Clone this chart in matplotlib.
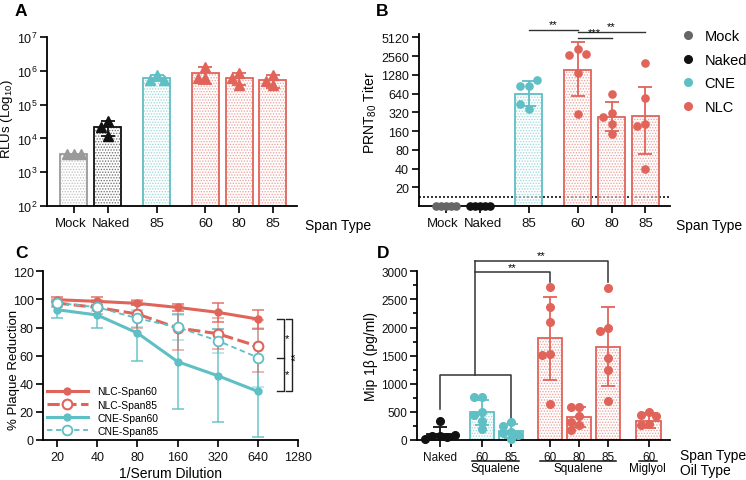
import numpy as np
import matplotlib
matplotlib.use('Agg')
import matplotlib.pyplot as plt
import matplotlib.transforms as mtransforms
from matplotlib.lines import Line2D
from matplotlib.ticker import FixedLocator, NullLocator, LogLocator, MultipleLocator

plt.rcParams['font.family'] = ['Liberation Sans', 'DejaVu Sans']
plt.rcParams['mathtext.default'] = 'regular'
plt.rcParams['hatch.linewidth'] = 0.7
plt.rcParams['axes.linewidth'] = 1.3

RED = '#E0645A'
TEAL = '#5EBFC4'
MOCK_A = '#9A9A9A'
MOCK_B = '#666666'
BLACK = '#111111'

# ---------------- panel A : luciferase RLUs
a_labels = ['Mock', 'Naked', '85', '60', '80', '85']
a_groups = ['Mock', 'Naked', 'CNE', 'NLC', 'NLC', 'NLC']
a_means = [3.5e3, 2.2e4, 6.1e5, 8.6e5, 6.1e5, 5.3e5]
a_sd = [0.0, 1.0e4, 1.2e5, 4.4e5, 2.3e5, 2.2e5]
a_points = [[3.5e3, 3.5e3, 3.5e3],
            [3.3e4, 2.2e4, 1.2e4],
            [7.5e5, 5.3e5, 5.3e5],
            [1.3e6, 6.1e5, 6.1e5],
            [8.6e5, 6.1e5, 3.8e5],
            [7.5e5, 5.0e5, 3.8e5]]

# ---------------- panel B : PRNT80 titers
b_labels = ['Mock', 'Naked', '85', '60', '80', '85']
b_groups = ['Mock', 'Naked', 'CNE', 'NLC', 'NLC', 'NLC']
b_means = [np.nan, np.nan, 640, 1530, 274, 276]
b_err_lo = [np.nan, np.nan, 410, 580, 158, 68]
b_err_hi = [np.nan, np.nan, 1030, 4250, 475, 830]
b_points = [[10, 10, 10, 10, 10],
            [10, 10, 10, 10, 10],
            [840, 840, 1060, 365, 430],
            [3330, 2660, 2720, 1370, 300],
            [640, 310, 274, 207, 145],
            [1960, 538, 207, 192, 40]]
b_lod = 14
b_ticks = [20, 40, 80, 160, 320, 640, 1280, 2560, 5120]
b_sig = [(2, 3, '**'), (3, 5, '**'), (3, 4, '***')]
b_sig_y = [6775, 6350, 5050]

# ---------------- panel C : neutralisation curves
c_dil = [20, 40, 80, 160, 320, 640]
c_names = ['NLC-Span60', 'NLC-Span85', 'CNE-Span60', 'CNE-Span85']
c_mean = [[99.8, 98.6, 97.2, 94.3, 90.8, 86.0],
          [97.4, 94.3, 89.6, 79.7, 75.6, 66.6],
          [92.7, 88.9, 76.1, 55.7, 45.7, 34.5],
          [97.5, 94.5, 86.5, 80.2, 70.6, 58.6]]
c_sd = [[1.7, 2.9, 1.5, 2.4, 6.6, 6.7],
        [3.0, 5.0, 10.0, 15.5, 11.0, 18.5],
        [6.0, 9.3, 19.7, 33.7, 33.0, 32.6],
        [2.0, 3.0, 6.0, 9.0, 8.5, 21.0]]
c_ticks = [20, 40, 80, 160, 320, 640, 1280]

# ---------------- panel D : Mip 1b
d_labels = ['Naked', '60', '85', '60', '80', '85', '60']
d_groups = ['Naked', 'CNE', 'CNE', 'NLC', 'NLC', 'NLC', 'NLC']
d_means = [112, 492, 160, 1808, 403, 1660, 344]
d_sd = [113, 219, 125, 741, 178, 700, 130]
d_points = [[345, 80, 75, 60, 25, 90],
            [759, 759, 504, 450, 344, 196],
            [326, 255, 148, 119, 95, 15],
            [2727, 2360, 2105, 1530, 1512, 640],
            [581, 581, 433, 326, 273, 184],
            [2698, 1986, 1945, 1453, 1245, 688],
            [504, 445, 433, 285, 267]]
d_oil = [('Squalene', 1, 2), ('Squalene', 3, 5), ('Miglyol', 6, 6)]

colors = {'Mock': MOCK_A, 'Naked': BLACK, 'CNE': TEAL, 'NLC': RED}
colors_b = {'Mock': MOCK_B, 'Naked': BLACK, 'CNE': TEAL, 'NLC': RED}

# layout
ab_pos = [0, 1, 2.45, 3.9, 4.9, 5.9]
ab_label_shift = [-3.5, 3, 0, 0, 0, 0]   # px nudge of tick labels
d_pos = [0, 1.45, 2.45, 3.8, 4.8, 5.8, 7.2]
W, H = 746, 481


def px_axes(l, r, t, b):
    return fig.add_axes([l / W, 1 - b / H, (r - l) / W, (b - t) / H])


def style(ax, xsize=9.5, ysize=9):
    for s in ['top', 'right']:
        ax.spines[s].set_visible(False)
    ax.tick_params(direction='out', length=5, width=1.3, colors='#111111')
    ax.tick_params(axis='x', labelsize=xsize, pad=3)
    ax.tick_params(axis='y', labelsize=ysize, pad=2)


def nudge(ax, shifts):
    for lab, dx in zip(ax.get_xticklabels(), shifts):
        lab.set_transform(lab.get_transform() +
                          mtransforms.ScaledTranslation(dx / 100, 0, fig.dpi_scale_trans))


def swarm(ax, x, vals, step):
    pts = ax.transData.transform(np.column_stack([np.full(len(vals), x, float), vals]))
    placed = []
    for px, py in pts:
        for k in [0, -1, 1, -2, 2, -3, 3]:
            cx = px + k * step
            if all(np.hypot(cx - qx, py - qy) >= step * 0.95 for qx, qy in placed):
                break
        placed.append((cx, py))
    return ax.transData.inverted().transform(np.array(placed))


def hbar(ax, x, top, bottom, color, width):
    ax.bar(x, top - bottom, width, bottom=bottom, color='white', edgecolor=color,
           hatch='......', linewidth=0, alpha=0.55, zorder=1)
    ax.bar(x, top - bottom, width, bottom=bottom, fill=False, edgecolor=color,
           linewidth=1.3, zorder=2)


fig = plt.figure(figsize=(W / 100, H / 100), dpi=100)

# ================= A
axA = px_axes(47, 297, 38, 207)
axA.set_yscale('log')
axA.set_ylim(1e2, 1e7)
axA.set_xlim(-0.8, 6.62)
style(axA)
axA.yaxis.set_major_locator(LogLocator(base=10, numticks=10))
axA.yaxis.set_minor_locator(NullLocator())
axA.set_xticks(ab_pos)
axA.set_xticklabels(a_labels)
nudge(axA, ab_label_shift)
axA.set_ylabel('RLUs (Log$_{10}$)', fontsize=9.5)
axA.yaxis.set_label_coords(-0.128, 0.52)
for i, g in enumerate(a_groups):
    c = colors[g]
    hbar(axA, ab_pos[i], a_means[i], 1e2, c, 0.8)
    if a_sd[i] > 0:
        axA.errorbar(ab_pos[i], a_means[i], yerr=a_sd[i], fmt='none', ecolor=c,
                     elinewidth=1.3, capsize=5, capthick=1.3, zorder=3)
    xy = swarm(axA, ab_pos[i], a_points[i], 7)
    axA.plot(xy[:, 0], xy[:, 1], '^', color=c, ms=6.5, mec=c, ls='', zorder=4)
fig.text(305 / W, 1 - 226 / H, 'Span Type', fontsize=10, va='center')

# ================= B
axB = px_axes(418.7, 669.7, 35, 207)
axB.set_yscale('log', base=2)
axB.set_ylim(10, 5800)
axB.set_xlim(-0.8, 6.62)
style(axB)
axB.yaxis.set_major_locator(FixedLocator(b_ticks))
axB.yaxis.set_minor_locator(NullLocator())
axB.set_yticklabels([str(t) for t in b_ticks])
axB.set_xticks(ab_pos)
axB.set_xticklabels(b_labels)
nudge(axB, ab_label_shift)
axB.set_ylabel('PRNT$_{80}$ Titer', fontsize=10)
axB.yaxis.set_label_coords(-0.16, 0.55)
axB.axhline(b_lod, color='#111111', ls=(0, (1.2, 1.2)), lw=1.2, zorder=1)
for i, g in enumerate(b_groups):
    c = colors_b[g]
    if not np.isnan(b_means[i]):
        hbar(axB, ab_pos[i], b_means[i], 10, c, 0.8)
        axB.errorbar(ab_pos[i], b_means[i],
                     yerr=[[b_means[i] - b_err_lo[i]], [b_err_hi[i] - b_means[i]]],
                     fmt='none', ecolor=c, elinewidth=1.3, capsize=5, capthick=1.3, zorder=3)
    xy = swarm(axB, ab_pos[i], b_points[i], 5 if g in ('Mock', 'Naked') else 8.5)
    axB.plot(xy[:, 0], xy[:, 1], 'o', color=c, ms=5.2, ls='', zorder=5, clip_on=False)
for (i0, i1, s), yv in zip(b_sig, b_sig_y):
    axB.plot([ab_pos[i0], ab_pos[i1]], [yv, yv], color='#333333', lw=1, clip_on=False)
    axB.text((ab_pos[i0] + ab_pos[i1]) / 2, yv * 1.02, s, ha='center', va='bottom',
             fontsize=8)
fig.text(676 / W, 1 - 226 / H, 'Span Type', fontsize=10, va='center')
handles = [Line2D([], [], marker='o', ls='', color=colors_b[g], ms=5.5)
           for g in ['Mock', 'Naked', 'CNE', 'NLC']]
fig.legend(handles, ['Mock', 'Naked', 'CNE', 'NLC'], loc='upper left',
           bbox_to_anchor=(681 / W, 1 - 30 / H), frameon=False, fontsize=10.5,
           handlelength=1.0, handletextpad=0.6, labelspacing=0.66, borderpad=0,
           borderaxespad=0)

# ================= C
axC = px_axes(43.3, 298.3, 272.3, 441)
axC.set_xscale('log', base=2)
axC.set_xlim(15.8, 1280)
axC.set_ylim(0, 120)
style(axC, xsize=9, ysize=9)
axC.xaxis.set_major_locator(FixedLocator(c_ticks))
axC.xaxis.set_minor_locator(NullLocator())
axC.set_xticklabels([str(t) for t in c_ticks])
axC.yaxis.set_major_locator(MultipleLocator(20))
axC.set_ylabel('% Plaque Reduction', fontsize=9.5)
axC.yaxis.set_label_coords(-0.092, 0.42)
axC.set_xlabel('1/Serum Dilution', fontsize=10)
axC.xaxis.set_label_coords(0.5, -0.152)
c_style = [dict(color=RED, ls='-', lw=2.2, marker='o', ms=5, mfc=RED),
           dict(color=RED, ls=(0, (4, 1.5)), lw=2.2, marker='o', ms=7, mfc='white', mew=1.5),
           dict(color=TEAL, ls='-', lw=2.2, marker='o', ms=5, mfc=TEAL),
           dict(color=TEAL, ls=(0, (3, 2)), lw=1.3, marker='o', ms=7, mfc='white', mew=1.3)]
c_alpha = [0.9, 0.6, 0.9, 0.5]
for k in [2, 3, 1, 0]:
    st = c_style[k]
    axC.errorbar(c_dil, c_mean[k], yerr=c_sd[k], fmt='none', ecolor=st['color'],
                 elinewidth=1.1, capsize=4, capthick=1.1, alpha=c_alpha[k], zorder=2)
    axC.plot(c_dil, c_mean[k], label=c_names[k], zorder=3 + k, **st)
hc, lc = axC.get_legend_handles_labels()
order = [lc.index(n) for n in c_names]
axC.legend([hc[i] for i in order], [lc[i] for i in order], loc='lower left',
           bbox_to_anchor=(0.013, 0.025), frameon=False, fontsize=7.5, handlelength=4.0,
           handletextpad=0.85, labelspacing=0.3, borderpad=0, borderaxespad=0)
# significance brackets (rightmost dilution)
y_top, y_mid, y_bot = c_mean[0][-1], c_mean[3][-1], c_mean[2][-1]
kw = dict(color='#222222', lw=1, clip_on=False)
axC.plot([885, 1009, 1009, 885], [y_top, y_top, y_bot, y_bot], **kw)
axC.plot([885, 1009], [y_mid, y_mid], **kw)
axC.plot([1040, 1145, 1145, 1040], [y_top, y_top, y_bot, y_bot], **kw)
axC.text(1055, (y_top + y_mid) / 2, '*', fontsize=8, ha='center', va='center')
axC.text(1055, (y_mid + y_bot) / 2, '*', fontsize=8, ha='center', va='center')
axC.text(1235, (y_top + y_bot) / 2, '**', fontsize=8, ha='center', va='center', rotation=90)

# ================= D
axD = px_axes(417.3, 669.7, 272.3, 441)
axD.set_ylim(0, 3000)
axD.set_xlim(-0.77, 7.93)
style(axD, xsize=8.5, ysize=8.5)
axD.yaxis.set_major_locator(MultipleLocator(500))
axD.yaxis.set_minor_locator(MultipleLocator(250))
axD.tick_params(axis='y', which='minor', length=3, width=1.2)
axD.set_xticks(d_pos)
axD.set_xticklabels(d_labels)
axD.set_ylabel('Mip 1\u03b2 (pg/ml)', fontsize=10)
axD.yaxis.set_label_coords(-0.156, 0.5)
for i, g in enumerate(d_groups):
    c = colors[g]
    hbar(axD, d_pos[i], d_means[i], 0, c, 0.84)
    axD.errorbar(d_pos[i], d_means[i], yerr=d_sd[i], fmt='none', ecolor=c,
                 elinewidth=1.3, capsize=5, capthick=1.3, zorder=3)
    xy = swarm(axD, d_pos[i], d_points[i], 7.5)
    axD.plot(xy[:, 0], xy[:, 1], 'o', color=c, ms=5.5, ls='', zorder=5, clip_on=False)
# brackets
kw = dict(color='#333333', lw=1.1, clip_on=False)
mid = (d_pos[0] + d_pos[2]) / 2
axD.plot([d_pos[0], d_pos[0], d_pos[2], d_pos[2]], [551, 1162, 1162, 373], **kw)
axD.plot([mid, mid], [1162, 3190], **kw)
axD.plot([mid, d_pos[3], d_pos[3]], [2982, 2982, 2816], **kw)
axD.plot([mid, d_pos[5], d_pos[5]], [3190, 3190, 2816], **kw)
axD.text((mid + d_pos[3]) / 2, 2990, '**', ha='center', va='bottom', fontsize=8)
axD.text((mid + d_pos[5]) / 2, 3198, '**', ha='center', va='bottom', fontsize=8)
# oil type underlines
tr = axD.get_xaxis_transform()
for name, i0, i1 in d_oil:
    x0, x1 = d_pos[i0] - 0.34, d_pos[i1] + 0.28
    axD.plot([x0, x1], [-0.123, -0.123], color='#111111', lw=1.1, transform=tr, clip_on=False)
    axD.text((x0 + x1) / 2, -0.165, name, transform=tr, ha='center', va='center', fontsize=8.5)
fig.text(679.7 / W, 1 - 456 / H, 'Span Type', fontsize=10, va='center')
fig.text(679.7 / W, 1 - 471 / H, 'Oil Type', fontsize=10, va='center')

# panel letters
for lbl, x, y in [('A', 15, 12), ('B', 376, 12), ('C', 15, 253), ('D', 377, 253)]:
    fig.text(x / W, 1 - y / H, lbl, fontsize=12.5, fontweight='bold', va='center')

fig.savefig('out.png', dpi=100)
